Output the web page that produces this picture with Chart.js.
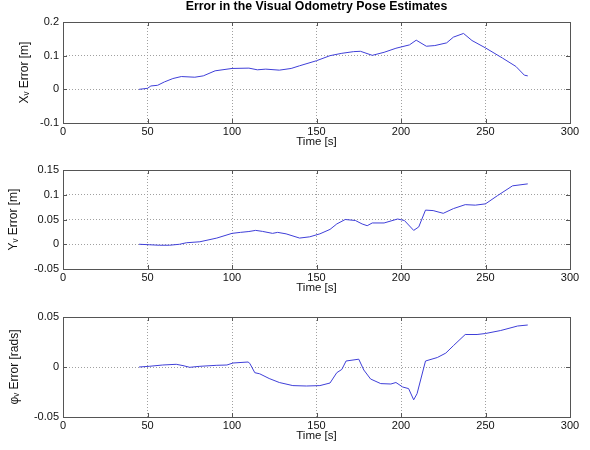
<!DOCTYPE html>
<html>
<head>
<meta charset="utf-8">
<script src="https://cdn.jsdelivr.net/npm/chart.js@4"></script>
<style>
  body { margin: 0; background: #fff; }
  #wrap { position: relative; width: 590px; height: 450px; }
  canvas { position: absolute; left: 0; }
</style>
</head>
<body>
<div id="wrap">
  <canvas id="cX" width="590" height="150" style="top:0"></canvas>
  <canvas id="cY" width="590" height="150" style="top:150px"></canvas>
  <canvas id="cPhi" width="590" height="150" style="top:300px"></canvas>
</div>
<script>
// X error (m)
var xTime = [45, 50, 52, 56, 60, 65, 70, 78, 83, 90, 100, 110, 115, 120, 128, 135, 140, 150, 158, 165,
             172, 176, 183, 190, 197, 205, 209, 215, 220, 227, 231, 237, 242, 250, 260, 268, 273, 275];
var xErr = [0, 0.003, 0.01, 0.012, 0.022, 0.032, 0.038, 0.036, 0.04, 0.055, 0.062, 0.063, 0.058, 0.06, 0.057, 0.062, 0.07, 0.085, 0.1, 0.107,
            0.112, 0.113, 0.101, 0.11, 0.122, 0.132, 0.146, 0.128, 0.13, 0.138, 0.155, 0.166, 0.145, 0.123, 0.093, 0.068, 0.042, 0.04];

// Y error (m)
var yTime = [45, 51, 57, 63, 69, 73, 81, 91, 100, 105, 110, 114, 118, 124, 127, 132, 140, 146, 152, 158, 162,
             167, 173, 177, 180, 183, 190, 198, 202, 207.5, 210.5, 214.5, 219, 225, 231, 238, 244, 250, 257, 266, 275];
var yErr = [0, -0.001, -0.002, -0.002, 0, 0.003, 0.005, 0.0125, 0.022, 0.024, 0.0257, 0.028, 0.026, 0.022, 0.024, 0.021, 0.0125, 0.015, 0.021, 0.03, 0.041,
            0.05, 0.048, 0.041, 0.0375, 0.043, 0.043, 0.051, 0.048, 0.028, 0.035, 0.069, 0.068, 0.0625, 0.072, 0.08, 0.079, 0.0816, 0.098, 0.118, 0.122];

// heading error (rads)
var phiTime = [45, 51, 59, 67, 71, 75, 81, 91, 97, 100.6, 109.5, 110.5, 113.5, 116.4, 122, 128, 136, 144, 152, 158, 162, 165,
               167.5, 175, 178, 182, 188, 194, 197, 201, 204.5, 207.5, 209.5, 214.5, 221.5, 226.5, 231, 238, 245, 250, 259, 269, 275];
var phiErr = [0, 0.0007, 0.002, 0.0027, 0.0014, -0.0003, 0.0007, 0.0017, 0.002, 0.004, 0.005, 0.0037, -0.0057, -0.0068, -0.0115, -0.0155, -0.0186, -0.019, -0.0186, -0.016, -0.0057, -0.0024,
              0.006, 0.0078, -0.003, -0.012, -0.0166, -0.017, -0.0155, -0.02, -0.0216, -0.0328, -0.0267, 0.006, 0.0095, 0.0139, 0.0213, 0.0325, 0.0325, 0.0335, 0.0365, 0.041, 0.042];

var timeTicks = [0, 50, 100, 150, 200, 250, 300];
var figTitle = 'Error in the Visual Odometry Pose Estimates';

Chart.defaults.font.family = '"Liberation Sans", Arial, sans-serif';
Chart.defaults.font.size = 11;
Chart.defaults.color = '#111';

// matlab style box with inward tick marks, plus the figure title over the plot
var boxPlugin = {
  id: 'box',
  afterDraw: function(chart) {
    var ctx = chart.ctx, a = chart.chartArea;
    ctx.save();
    ctx.strokeStyle = '#555';
    ctx.lineWidth = 1;
    ctx.strokeRect(Math.round(a.left) + 0.5, Math.round(a.top) + 0.5, Math.round(a.right - a.left), Math.round(a.bottom - a.top));
    ctx.beginPath();
    chart.scales.x.ticks.forEach(function(t) {
      var px = Math.round(chart.scales.x.getPixelForValue(t.value)) + 0.5;
      ctx.moveTo(px, a.bottom); ctx.lineTo(px, a.bottom - 4);
      ctx.moveTo(px, a.top); ctx.lineTo(px, a.top + 4);
    });
    chart.scales.y.ticks.forEach(function(t) {
      var py = Math.round(chart.scales.y.getPixelForValue(t.value)) + 0.5;
      ctx.moveTo(a.left, py); ctx.lineTo(a.left + 4, py);
      ctx.moveTo(a.right, py); ctx.lineTo(a.right - 4, py);
    });
    ctx.stroke();
    var txt = chart.options.plugins.box && chart.options.plugins.box.text;
    if (txt) {
      ctx.fillStyle = '#000';
      ctx.font = 'bold 12.3px "Liberation Sans", Arial, sans-serif';
      ctx.textAlign = 'center';
      ctx.textBaseline = 'middle';
      ctx.fillText(txt, (a.left + a.right) / 2, 7);
    }
    ctx.restore();
  }
};

function fmt(v) { return String(parseFloat(v.toFixed(4))); }

function makeChart(id, times, vals, yMin, yMax, yStep, yTitle, yTitlePad, padTop, padBottom, title) {
  var pts = times.map(function(t, i) { return {x: t, y: vals[i]}; });
  return new Chart(document.getElementById(id).getContext('2d'), {
    type: 'line',
    data: {
      datasets: [{
        data: pts,
        borderColor: '#3f3fd8',
        borderWidth: 1,
        pointRadius: 0,
        tension: 0,
        fill: false
      }]
    },
    options: {
      responsive: false,
      animation: false,
      devicePixelRatio: 1,
      layout: { padding: { top: padTop, bottom: padBottom, left: 0, right: 20 } },
      plugins: {
        legend: { display: false },
        tooltip: { enabled: false },
        title: { display: false },
        box: { text: title }
      },
      scales: {
        x: {
          type: 'linear',
          min: 0, max: 300,
          afterBuildTicks: function(s) { s.ticks = timeTicks.map(function(v) { return {value: v}; }); },
          afterFit: function(s) { s.height = 27; },
          ticks: { padding: 2, maxRotation: 0, color: '#111' },
          grid: { color: '#a0a0a0', drawTicks: false },
          border: { display: false, dash: [1, 2] },
          title: { display: true, text: 'Time [s]', font: { size: 11.5 }, padding: { top: 0, bottom: 1 }, color: '#111' }
        },
        y: {
          min: yMin, max: yMax,
          afterFit: function(s) { s.width = 63; },
          ticks: { stepSize: yStep, padding: 4, color: '#111', callback: function(v) { return fmt(v); } },
          grid: { color: '#a0a0a0', drawTicks: false },
          border: { display: false, dash: [1, 2] },
          title: { display: true, text: yTitle, font: { size: 12 }, padding: { top: yTitlePad, bottom: 0 }, color: '#111' }
        }
      }
    },
    plugins: [boxPlugin]
  });
}

makeChart('cX', xTime, xErr, -0.1, 0.2, 0.1, 'Xᵥ Error [m]', 17, 22, 0, figTitle);
makeChart('cY', yTime, yErr, -0.05, 0.15, 0.05, 'Yᵥ Error [m]', 6, 20, 4, null);
makeChart('cPhi', phiTime, phiErr, -0.05, 0.05, 0.05, 'φᵥ Error [rads]', 7, 17, 6, null);
</script>
</body>
</html>
